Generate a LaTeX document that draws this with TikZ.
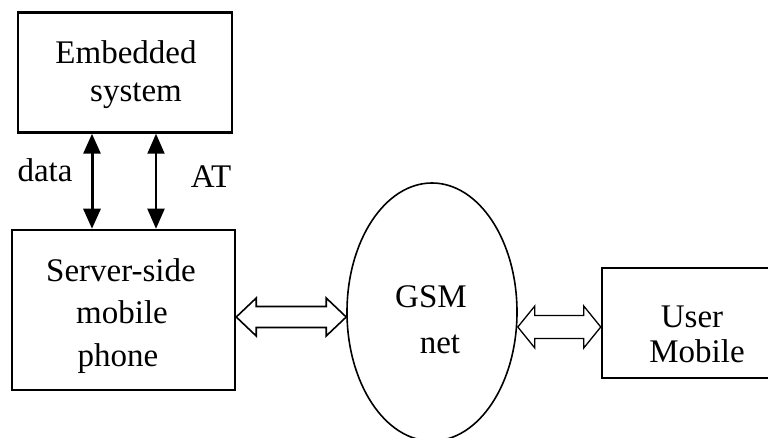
\documentclass[tikz,border=0pt]{standalone}
\usepackage{fontspec}
\setmainfont{Liberation Serif}
\usetikzlibrary{arrows.meta,shapes.geometric,calc}
\tikzset{
  box/.style={draw, line width=2.5pt, rectangle, inner sep=0pt},
  txt/.style={anchor=base, inner sep=0pt, font=\fontsize{33}{38}\selectfont},
  vline/.style={>={Triangle[length=20pt,width=17pt]}, <->},
}
\newcommand\hollowarrow[6]{%
  \draw[line width=#6, line join=miter] let \p1=(#1), \p2=(#2) in
    (\x1,\y1) -- (\x1+#5pt,\y1+#4pt) -- (\x1+#5pt,\y1+#3pt) -- (\x2-#5pt,\y1+#3pt)
    -- (\x2-#5pt,\y1+#4pt) -- (\x2,\y1) -- (\x2-#5pt,\y1-#4pt) -- (\x2-#5pt,\y1-#3pt)
    -- (\x1+#5pt,\y1-#3pt) -- (\x1+#5pt,\y1-#4pt) -- cycle;}
\begin{document}
\begin{tikzpicture}[x=1pt,y=-1pt]
\clip (0,0) rectangle (768,438);
\fill[white] (0,0) rectangle (768,438);
% boxes
\node[box, minimum width=214pt, minimum height=120pt] (emb) at (125,72.5) {};
\node[box, minimum width=223pt, minimum height=160pt] (server) at (123.5,310) {};
\node[draw, line width=1.6pt, ellipse, minimum width=170pt, minimum height=258pt, inner sep=0pt] (gsm) at (432,312) {};
\node[box, minimum width=174pt, minimum height=110pt] (user) at (689,323) {};
% texts
\node[txt] (t1) at (126,64) {Embedded};
\node[txt] (t2) at (136,102) {system};
\node[txt] (t3) at (121,282) {Server-side};
\node[txt] (t4) at (122,323) {mobile};
\node[txt] (t5) at (118,366) {phone};
\node[txt] (t6) at (431,308) {GSM};
\node[txt] (t7) at (440,353) {net};
\node[txt] (t8) at (692,327) {User};
\node[txt] (t9) at (697,362) {Mobile};
\node[txt] (ldata) at (45,182) {data};
\node[txt] (lat) at (211,188) {AT};
% vertical arrows
\coordinate (dx) at (92,180);
\coordinate (ax) at (156,180);
\draw[line width=3pt, vline] (emb.south -| dx) -- (server.north -| dx);
\draw[line width=2pt, vline] (emb.south -| ax) -- (server.north -| ax);
% hollow double arrows
\coordinate (h1) at (300,317);
\coordinate (h2) at (560,327);
\hollowarrow{server.east |- h1}{gsm.west |- h1}{10.5}{19}{20}{1.6pt}
\hollowarrow{gsm.east |- h2}{user.west |- h2}{11.5}{21}{17}{1.3pt}
\end{tikzpicture}
\end{document}
